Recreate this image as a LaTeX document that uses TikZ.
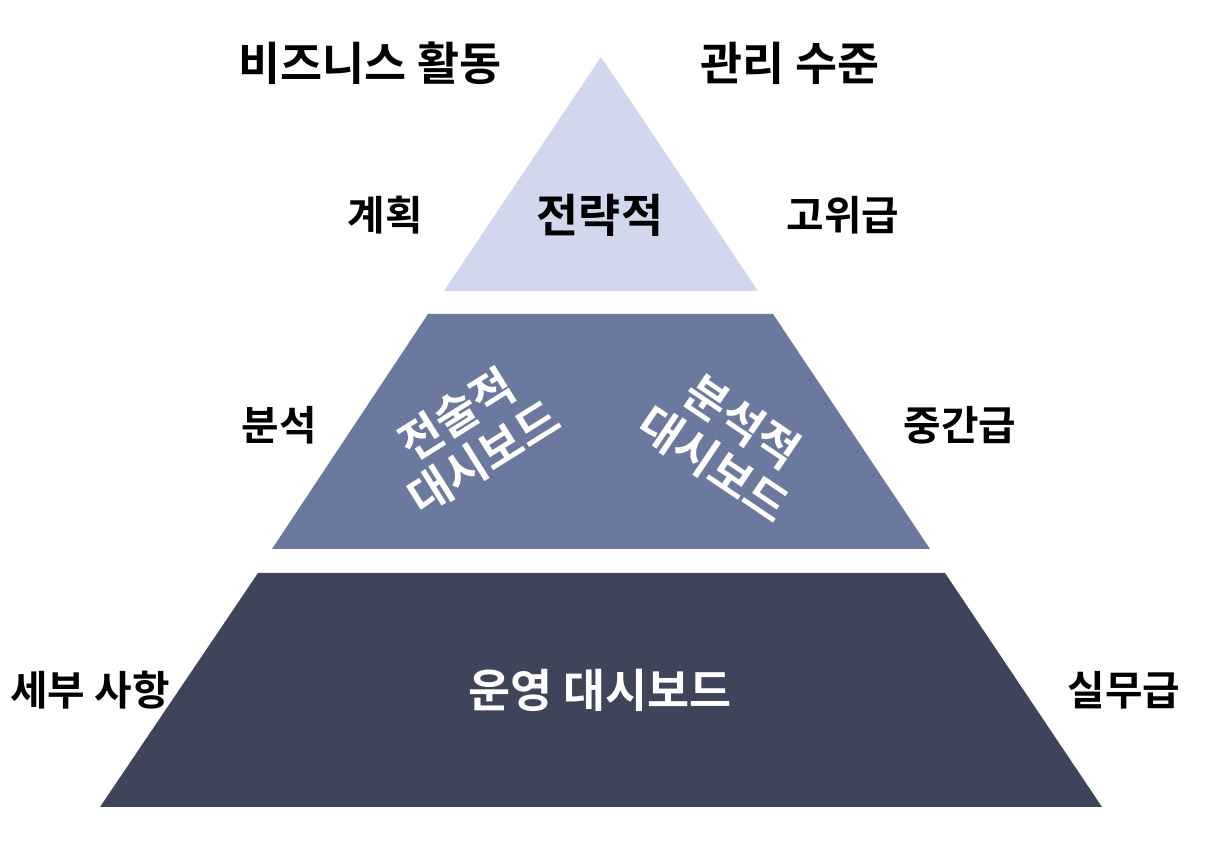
\documentclass[tikz,border=0pt]{standalone}
\usepackage{fontspec}
\usepackage{xcolor}
\newfontfamily\kofont{Noto Sans CJK KR}[BoldFont={Noto Sans CJK KR Bold}]
\definecolor{haut}{HTML}{D1D8EE}
\definecolor{milieu}{HTML}{6B799F}
\definecolor{bas}{HTML}{3E4459}
\tikzset{
  titre/.style={font=\kofont\bfseries\fontsize{13pt}{15pt}\selectfont, text=black, inner sep=0pt},
  etiquette/.style={font=\kofont\bfseries\fontsize{11.6pt}{14pt}\selectfont, text=black, inner sep=0pt},
  blanc/.style={font=\kofont\bfseries\fontsize{13pt}{14.5pt}\selectfont, text=white, inner sep=0pt, align=center}
}
\begin{document}
\begin{tikzpicture}[x=0.01cm,y=-0.01cm] % un pixel = 0.01 cm
\useasboundingbox (0,0) rectangle (1232,864);
\fill[color=haut]   (601,57)--(758,291)--(444,291)--cycle; % le sommet
\fill[color=milieu] (428,314)--(773,314)--(930,549)--(272,549)--cycle;
\fill[color=bas]    (258,573)--(945,573)--(1102,807)--(100,807)--cycle;
\node[titre] (activite) at (370,63) {비즈니스 활동};
\node[titre] (niveau)   at (790,63) {관리 수준};
\node[etiquette] (plan)     at (385,215) {계획};
\node[titre]     (strat)    at (600,215) {전략적};
\node[etiquette] (haut)     at (843,215) {고위급};
\node[etiquette] (analyse)  at (279,425) {분석};
\node[etiquette] (moyen)    at (960,425) {중간급};
\node[blanc,rotate=32]  (tactique)  at (470,436) {전술적\\대시보드};
\node[blanc,rotate=-34] (analytique) at (728,443) {분석적\\대시보드};
\node[etiquette] (detail)   at (90,690) {세부 사항};
\node[blanc]     (operation) at (600,690) {운영 대시보드};
\node[etiquette] (terrain)  at (1124,690) {실무급};
\end{tikzpicture}
\end{document}
